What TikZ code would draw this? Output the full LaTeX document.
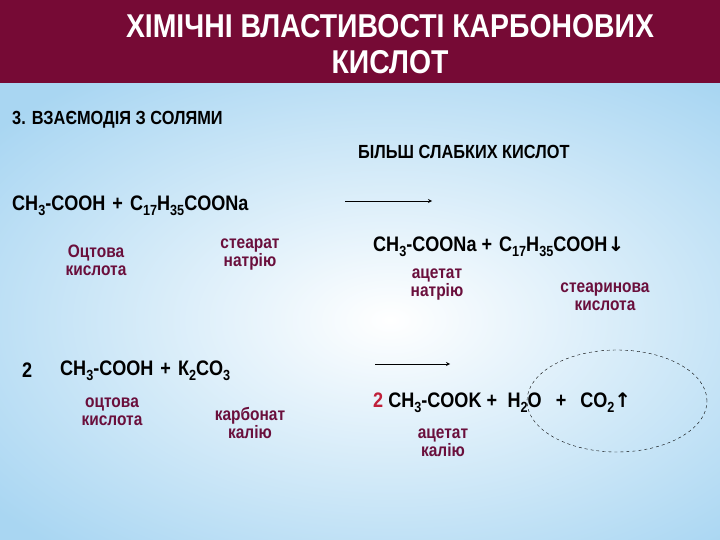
\documentclass[tikz,border=0pt]{standalone}
\usepackage{fontspec}
\setmainfont[FakeStretch=0.86]{Liberation Sans}
\newfontfamily\arrfont{DejaVu Sans}
\usepackage{graphicx}
\usetikzlibrary{shapes.geometric}
\definecolor{titlebg}{HTML}{760A35}
\definecolor{lbl}{HTML}{6A0F3C}
\definecolor{bgblue}{HTML}{A9D6F2}
\definecolor{numred}{HTML}{C0203A}
\newcommand{\chs}[1]{\raisebox{-0.45ex}{\scalebox{0.7}{#1}}}
\begin{document}
\begin{tikzpicture}[x=1pt,y=-1pt,
  formula/.style={font=\bfseries\fontsize{21}{23}\selectfont,inner sep=0pt,anchor=west},
  lab/.style={font=\bfseries\fontsize{18}{18}\selectfont,text=lbl,align=center,inner sep=0pt},
  head/.style={font=\bfseries\fontsize{19}{21}\selectfont,inner sep=0pt,anchor=west},
  rarrow/.style={thick,-stealth}]
\useasboundingbox (0,0) rectangle (720,540);
\shade[inner color=white,outer color=bgblue] (-120,20) rectangle (900,620);
\fill[titlebg] (0,0) rectangle (720,83);
\node[font=\bfseries\fontsize{33}{36}\selectfont,text=white,align=center] (title) at (390,44) {ХІМІЧНІ ВЛАСТИВОСТІ КАРБОНОВИХ\\КИСЛОТ};
\node[head] (h1) at (12,120) {3. ВЗАЄМОДІЯ З СОЛЯМИ};
\node[head] (h2) at (358,152) {БІЛЬШ СЛАБКИХ КИСЛОТ};
% reaction 1
\node[formula] (r1) at (12,206) {CH\chs{3}-COOH\,\,+\,\,C\chs{17}H\chs{35}COONa};
\coordinate (a1s) at (345,201); \coordinate (a1e) at (432,201);
\draw[rarrow] (a1s) -- (a1e);
\node[lab] (l1) at (96,260) {Оцтова\\кислота};
\node[lab] (l2) at (250,255) {стеарат\\натрію};
\node[formula] (p1) at (373,247) {CH\chs{3}-COONa +\,\,C\chs{17}H\chs{35}COOH{\arrfont\fontsize{20}{20}\selectfont ↓}};
\node[lab] (l3) at (437,285) {ацетат\\натрію};
\node[lab] (l4) at (605,297) {стеаринова\\кислота};
% reaction 2
\node[formula] (n2) at (22,370) {2};
\node[formula] (r2) at (60,371) {CH\chs{3}-COOH\,\,+\,\,К\chs{2}CO\chs{3}};
\coordinate (a2s) at (375,364); \coordinate (a2e) at (450,364);
\draw[rarrow] (a2s) -- (a2e);
\node[lab] (l5) at (112,412) {оцтова\\кислота};
\node[lab] (l6) at (250,423) {карбонат\\калію};
\node[formula] (p2) at (373,403) {{\color{numred}2} CH\chs{3}-COOK +\,\,\,H\chs{2}O\,\,\,\,+\,\,\,\,CO\chs{2}{\arrfont\fontsize{20}{20}\selectfont ↑}};
\node[lab] (l7) at (443,443) {ацетат\\калію};
\node[draw,dashed,ellipse,minimum width=180pt,minimum height=102pt,thin] (circ) at (617,401) {};
\end{tikzpicture}
\end{document}
